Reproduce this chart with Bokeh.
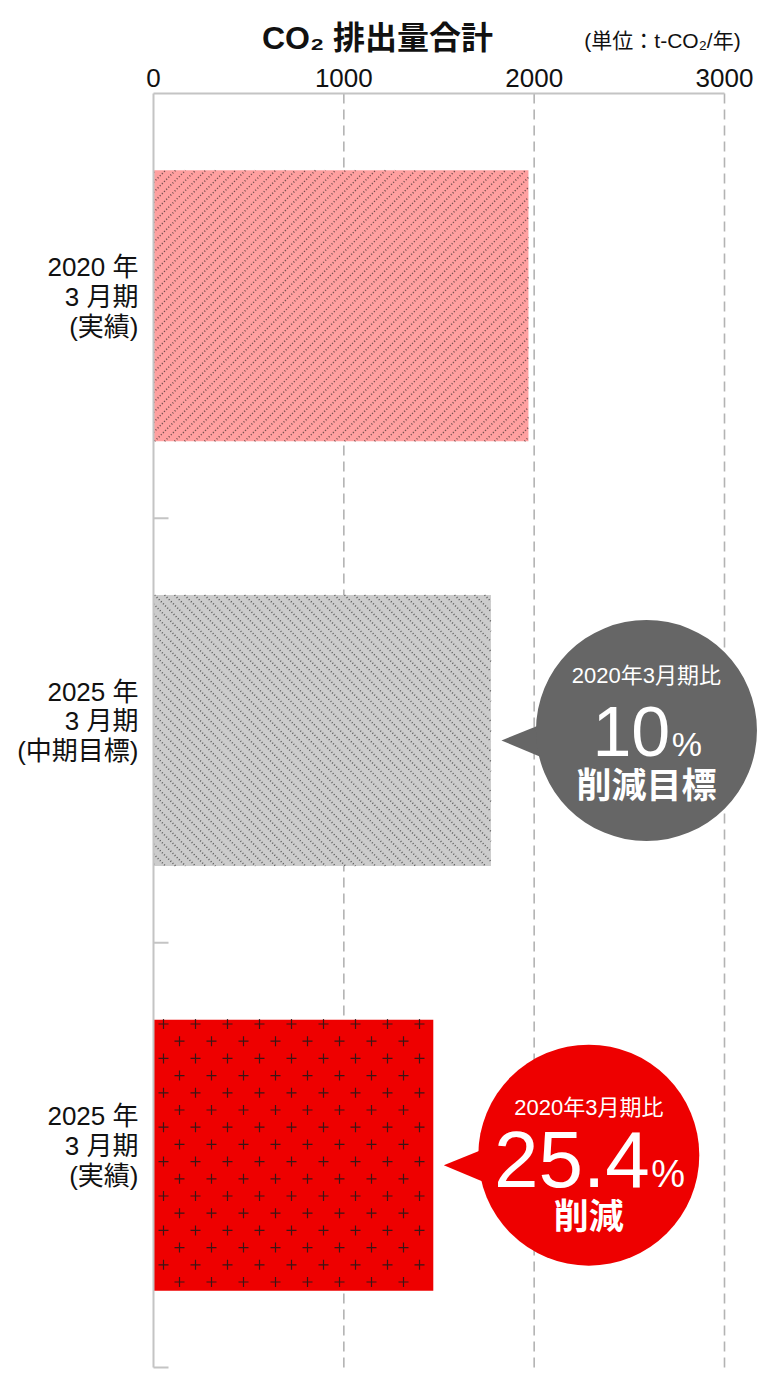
from bokeh.plotting import figure
from bokeh.models import Range1d
from bokeh.embed import file_html
from bokeh.resources import INLINE

# data (t-CO2/年)
periods = ["2020 年\n3 月期\n(実績)", "2025 年\n3 月期\n(中期目標)", "2025 年\n3 月期\n(実績)"]
emissions = [1970, 1773, 1470]
x_ticks = [0, 1000, 2000, 3000]

callout_bar = [1, 2]
callout_lead = ["2020年3月期比", "2020年3月期比"]
callout_pct = ["10", "25.4"]
callout_note = ["削減目標", "削減"]

title_text = "CO₂ 排出量合計"
unit_text = "(単位：t-CO₂/年)"

# styles
bar_colors = ["#ffa0a0", "#cccccc", "#ee0000"]
bar_texture = ["up", "down", "cross"]
callout_colors = ["#666666", "#ee0000"]
num_sizes = [70, 80]
lead_dy = [-55, -48]
base_dy = [25, 32]
note_dy = [52, 58]

LATIN = "Liberation Sans, Noto Sans CJK JP"
CJK = "Noto Sans CJK JP"
AXIS = "#c4c4c4"
INK = "#111111"

# page geometry (px): the frame covers the whole canvas, axes drawn by hand
W, H = 780, 1385
X0, Y0 = 153, 93          # pixel of value 0 / top of first band
XPX = 3000 / (724 - X0)   # data per px
YPX = 3 / (1367 - Y0)


def dx(px):
    return px * XPX


def dy(px):
    return px * YPX


p = figure(width=W, height=H, output_backend="svg", toolbar_location=None,
           x_range=Range1d(-dx(X0), dx(W - X0)), y_range=Range1d(dy(H - Y0), -dy(Y0)),
           x_axis_type=None, y_axis_type=None,
           min_border=0, min_border_left=0, min_border_right=0,
           min_border_top=0, min_border_bottom=0)
p.outline_line_color = None
p.grid.visible = False

n = len(emissions)

# dashed grid
p.segment(x0=x_ticks[1:], y0=0, x1=x_ticks[1:], y1=n,
          line_color="#b3b3b3", line_width=1.6, line_dash="10 6")

# bars with hand-drawn textures
half = 0.319
for i, val in enumerate(emissions):
    top, bot = i + 0.5 - half, i + 0.5 + half
    p.quad(left=0, right=val, top=top, bottom=bot,
           fill_color=bar_colors[i], line_color=None)

    u0, u1 = 0, val / XPX
    v0, v1 = top / YPX, bot / YPX
    if bar_texture[i] in ("up", "down"):
        xs, ys = [], []
        step = 10
        if bar_texture[i] == "up":          # u + v = k
            k, kmax = u0 + v0 + 2, u1 + v1
        else:                                # u - v = k
            k, kmax = u0 - v1 + 2, u1 - v0
        while k < kmax:
            if bar_texture[i] == "up":
                lo, hi = max(u0, k - v1), min(u1, k - v0)
                seg = [(lo, k - lo), (hi, k - hi)]
            else:
                lo, hi = max(u0, v0 + k), min(u1, v1 + k)
                seg = [(lo, lo - k), (hi, hi - k)]
            if hi - lo > 1:
                xs.append([dx(a) for a, _ in seg])
                ys.append([dy(b) for _, b in seg])
            k += step
        p.multi_line(xs=xs, ys=ys, line_color="#1e1e1e", line_alpha=0.65,
                     line_width=1.6, line_dash="1 2")
    else:
        cxs, cys = [], []
        r = 0
        v = v0 + 4.3
        while v < v1 - 3:
            u = u0 + 10 + (16 if r % 2 else 0)
            while u < u1 - 3:
                cxs.append(dx(u))
                cys.append(dy(v))
                u += 32
            v += 17.2
            r += 1
        p.scatter(x=cxs, y=cys, marker="cross", size=10, line_color="#1a1a1a",
                  line_alpha=0.85, line_width=1.2)

# axes
p.segment(x0=[0, 0], y0=[0, 0], x1=[0, x_ticks[-1]], y1=[n, 0],
          line_color=AXIS, line_width=2)
p.segment(x0=0, y0=list(range(1, n + 1)), x1=dx(15), y1=list(range(1, n + 1)),
          line_color=AXIS, line_width=2)
p.text(x=x_ticks, y=-dy(16), text=[str(t) for t in x_ticks],
       text_align="center", text_baseline="middle",
       text_font={"value": LATIN}, text_font_size="26px", text_color=INK)

# category labels
p.text(x=-dx(15), y=[i + 0.5 - dy(9) for i in range(n)], text=periods,
       text_align="right", text_baseline="middle",
       text_font={"value": LATIN}, text_font_size="26px", text_color=INK,
       text_line_height=0.99)

# callouts
for k, b in enumerate(callout_bar):
    tip_x = emissions[b] + dx(10.5)
    cx = tip_x + dx(145)
    cy = b + 0.5
    col = callout_colors[k]
    p.patch(x=[tip_x, cx - dx(108), cx - dx(102)],
            y=[cy + dy(10), cy - dy(5), cy + dy(28)],
            fill_color=col, line_color=None)
    p.scatter(x=[cx], y=[cy], size=221, marker="circle", fill_color=col, line_color=None)

    p.text(x=[cx], y=[cy + dy(lead_dy[k])], text=[callout_lead[k]],
           text_align="center", text_baseline="middle",
           text_font={"value": LATIN}, text_font_size="22px", text_color="white")
    ns = num_sizes[k]
    ps = round(ns * 0.48)
    num = callout_pct[k]
    num_w = (0.556 * sum(ch.isdigit() for ch in num) + 0.278 * num.count(".")) * ns
    pct_w = 0.889 * ps
    split = cx + dx((num_w - pct_w) / 2)
    base = cy + dy(base_dy[k])
    p.text(x=[split], y=[base - dy(0.35 * ns)], text=[num],
           text_align="right", text_baseline="middle",
           text_font={"value": "Liberation Sans"}, text_font_size=f"{ns}px", text_color="white")
    p.text(x=[split + dx(1.5)], y=[base - dy(0.35 * ps)], text=["%"],
           text_align="left", text_baseline="middle",
           text_font={"value": "Liberation Sans"}, text_font_size=f"{ps}px", text_color="white")
    p.text(x=[cx], y=[cy + dy(note_dy[k])], text=[callout_note[k]],
           text_align="center", text_baseline="middle",
           text_font={"value": CJK}, text_font_style="bold", text_font_size="35px",
           text_color="white")

# title and unit
p.text(x=[dx(377 - X0)], y=[-dy(Y0 - 37)], text=[title_text],
       text_align="center", text_baseline="middle",
       text_font={"value": LATIN}, text_font_style="bold", text_font_size="32px",
       text_color=INK)
p.text(x=[dx(662 - X0)], y=[-dy(Y0 - 40)], text=[unit_text],
       text_align="center", text_baseline="middle",
       text_font={"value": LATIN}, text_font_size="21px", text_color=INK)

open("out.html", "w").write(file_html(p, INLINE))
